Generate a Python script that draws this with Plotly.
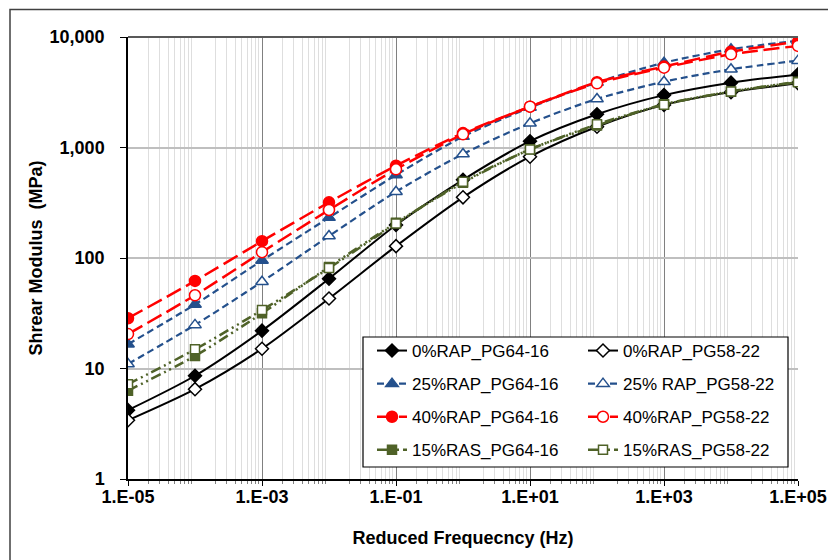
import plotly.graph_objects as go

freq = [1e-5, 1e-4, 1e-3, 1e-2, 1e-1, 1e0, 1e1, 1e2, 1e3, 1e4, 1e5]

g0_64 = [4.2, 8.6, 22, 65, 199, 510, 1140, 2000, 2980, 3860, 4590]
g0_58 = [3.4, 6.5, 15.1, 43, 128, 354, 826, 1540, 2430, 3170, 3820]
g25_64 = [16.6, 38, 95, 232, 564, 1255, 2300, 3880, 5850, 7750, 9260]
g25_58 = [11.0, 24.8, 61, 158, 398, 873, 1655, 2750, 3940, 5100, 6110]
g40_64 = [28.5, 62, 142, 319, 684, 1350, 2340, 3900, 5400, 7360, 9070]
g40_58 = [20.5, 46, 113, 272, 635, 1316, 2340, 3810, 5275, 6970, 8300]
gras_64 = [6.3, 13.0, 31.6, 83, 208, 480, 964, 1580, 2460, 3200, 3940]
gras_58 = [7.2, 14.9, 33.8, 81, 205, 490, 960, 1620, 2440, 3220, 3900]

names = ["0%RAP_PG64-16", "0%RAP_PG58-22", "25%RAP_PG64-16", "25% RAP_PG58-22",
         "40%RAP_PG64-16", "40%RAP_PG58-22", "15%RAS_PG64-16", "15%RAS_PG58-22"]

x_tickvals = [1e-5, 1e-3, 1e-1, 1e1, 1e3, 1e5]
x_ticktext = ["1.E-05", "1.E-03", "1.E-01", "1.E+01", "1.E+03", "1.E+05"]
y_tickvals = [1, 10, 100, 1000, 10000]
y_ticktext = ["1", "10", "100", "1,000", "10,000"]

BLACK = "#000000"
BLUE = "#24508C"
RED = "#FF0000"
GREEN = "#4F6228"
FONT = "Liberation Sans, Arial, sans-serif"

styles = [
    dict(y=g0_64, color=BLACK, dash="solid", symbol="diamond", size=10, fill=BLACK, width=2, leg="legend"),
    dict(y=g0_58, color=BLACK, dash="solid", symbol="diamond", size=10, fill="white", width=2, leg="legend2"),
    dict(y=g25_64, color=BLUE, dash="7px,4px", symbol="triangle-up", size=11, fill=BLUE, width=2.2, leg="legend"),
    dict(y=g25_58, color=BLUE, dash="7px,4px", symbol="triangle-up", size=11, fill="white", width=2.2, leg="legend2"),
    dict(y=g40_64, color=RED, dash="16px,6px", symbol="circle", size=11, fill=RED, width=2.5, leg="legend"),
    dict(y=g40_58, color=RED, dash="16px,6px", symbol="circle", size=11, fill="white", width=2.5, leg="legend2"),
    dict(y=gras_64, color=GREEN, dash="10px,4px,2px,4px,2px,4px", symbol="square", size=9, fill=GREEN, width=2.5, leg="legend"),
    dict(y=gras_58, color=GREEN, dash="10px,4px,2px,4px,2px,4px", symbol="square", size=9, fill="white", width=2.5, leg="legend2"),
]

fig = go.Figure()
for nm, s in zip(names, styles):
    fig.add_trace(go.Scatter(
        x=freq, y=s["y"], name=nm, mode="lines+markers",
        line=dict(color=s["color"], dash=s["dash"], width=s["width"], shape="spline", smoothing=0.8),
        marker=dict(symbol=s["symbol"], size=s["size"], color=s["fill"],
                    line=dict(color=s["color"], width=1.5)),
        legend=s["leg"], legendgroup=nm,
    ))

minor_x = []
for e in range(-5, 5):
    for k in range(1, 10):
        v = k * 10 ** e
        if k == 1 and e % 2 != 0:
            minor_x.append(v)
        elif k > 1:
            minor_x.append(v)

# page body has an 8px offset; plot area on screen: x 128..798, y 37..479
OFF = 8
W, H = 836, 560
L, T = 128 - OFF, 37 - OFF
R = W - (798 - OFF)
B = H - (479 - OFF)
pw, ph = 670, 442

def px(xs):
    return (xs - 128) / pw

def py(ys):
    return (479 - ys) / ph

legfont = dict(family=FONT, size=17, color="black")

fig.update_layout(
    width=W, height=H, autosize=False,
    margin=dict(l=L, r=R, t=T, b=B, pad=0),
    paper_bgcolor="white", plot_bgcolor="white",
    font=dict(family=FONT, color="black"),
    xaxis=dict(
        type="log", range=[-5, 5], automargin=False,
        tickvals=x_tickvals, ticktext=x_ticktext,
        tickfont=dict(family=FONT, size=18, color="black", weight="bold"),
        showgrid=True, gridcolor="#808080", gridwidth=1,
        showline=True, linecolor="black", linewidth=1.5, mirror=False,
        ticks="outside", ticklen=5, tickcolor="black", ticklabelstandoff=-4,
        minor=dict(tickvals=minor_x, showgrid=True, gridcolor="#dedede", gridwidth=1,
                   ticks="outside", ticklen=3, tickcolor="#808080"),
        title=dict(text="Reduced Frequecncy (Hz)", standoff=25,
                   font=dict(family=FONT, size=18, color="black", weight="bold")),
        zeroline=False,
    ),
    yaxis=dict(
        type="log", range=[0, 4], automargin=False,
        tickvals=y_tickvals, ticktext=y_ticktext,
        tickfont=dict(family=FONT, size=18, color="black", weight="bold"),
        showgrid=True, gridcolor="#bfbfbf", gridwidth=1.5,
        showline=True, linecolor="black", linewidth=1.5, mirror=False,
        ticks="outside", ticklen=6, tickcolor="black", ticklabelstandoff=12,
        title=dict(text="Shrear Modulus  (MPa)", standoff=2,
                   font=dict(family=FONT, size=18, color="black", weight="bold")),
        zeroline=False,
    ),
    legend=dict(x=px(372), y=py(333), xanchor="left", yanchor="top",
                bgcolor="rgba(0,0,0,0)", borderwidth=0, font=legfont,
                tracegroupgap=8, itemwidth=30),
    legend2=dict(x=px(583), y=py(333), xanchor="left", yanchor="top",
                 bgcolor="rgba(0,0,0,0)", borderwidth=0, font=legfont,
                 tracegroupgap=8, itemwidth=30),
    shapes=[
        dict(type="line", xref="paper", yref="paper", x0=0, x1=1, y0=1, y1=1,
             line=dict(color="#595959", width=2), layer="above"),
        dict(type="rect", xref="paper", yref="paper",
             x0=px(363), x1=px(788), y0=py(467), y1=py(337),
             fillcolor="white", line=dict(color="black", width=1.2), layer="above"),
        dict(type="rect", xref="paper", yref="paper",
             x0=px(10), x1=px(850), y0=py(575), y1=py(9.5),
             line=dict(color="#404040", width=1.5), layer="above"),
    ],
)

fig.write_html("out.html")
